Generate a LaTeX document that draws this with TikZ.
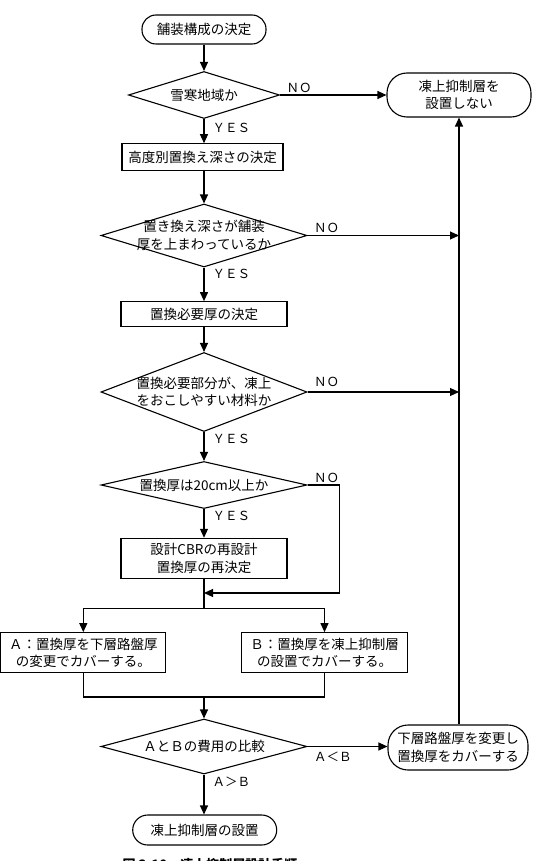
\documentclass[tikz,border=0pt]{standalone}
\usepackage{fontspec}
\setmainfont{Noto Sans CJK JP}
\usetikzlibrary{shapes.geometric,arrows.meta}
\newcommand\myfs{\fontsize{13.5}{17.5}\selectfont}
\newcommand\mylf{\fontsize{12.5}{14}\selectfont}
\begin{document}
\begin{tikzpicture}[x=1pt,y=-1pt,line width=1.1pt,
  arr/.style={-{Triangle[length=9pt,width=8pt]}},
  box/.style={draw,rectangle,inner sep=0pt,align=center,font=\myfs},
  term/.style={draw,rectangle,rounded corners=#1,inner sep=0pt,align=center,font=\myfs},
  dia/.style={draw,diamond,inner sep=0pt},
  dtext/.style={inner sep=0pt,align=center,font=\myfs},
  lab/.style={inner sep=0pt,font=\mylf}]
\useasboundingbox (0,0) rectangle (536,861);

% nodes
\node[term=14pt,minimum width=124pt,minimum height=29pt] (t1) at (204,29.5) {舗装構成の決定};
\node[dia,minimum width=151pt,minimum height=47pt] (d1) at (204,95) {};
\node[dtext] (d1t) at (d1) {雪寒地域か};
\node[term=20pt,minimum width=144pt,minimum height=44pt] (t2) at (459,95) {凍上抑制層を\\設置しない};
\node[box,minimum width=161pt,minimum height=27pt] (b1) at (202.5,157.3) {高度別置換え深さの決定};
\node[dia,minimum width=206pt,minimum height=63pt] (d2) at (204,235.5) {};
\node[dtext] (d2t) at (d2) {置き換え深さが舗装\\厚を上まわっているか};
\node[box,minimum width=166pt,minimum height=25pt] (b2) at (204,314.2) {置換必要厚の決定};
\node[dia,minimum width=206pt,minimum height=79pt] (d3) at (204,392) {};
\node[dtext] (d3t) at (d3) {置換必要部分が、凍上\\をおこしやすい材料か};
\node[dia,minimum width=206pt,minimum height=47pt] (d4) at (204,485) {};
\node[dtext] (d4t) at (d4) {置換厚は20cm以上か};
\node[box,minimum width=166pt,minimum height=40pt] (b3) at (204,558.3) {設計CBRの再設計\\置換厚の再決定};
\node[box,minimum width=165pt,minimum height=40pt] (bA) at (83.3,652.7) {Ａ：置換厚を下層路盤厚\\の変更でカバーする。};
\node[box,minimum width=166pt,minimum height=40pt] (bB) at (324.5,652.7) {Ｂ：置換厚を凍上抑制層\\の設置でカバーする。};
\node[dia,minimum width=206pt,minimum height=55pt] (d5) at (204,746.5) {};
\node[dtext] (d5t) at (d5) {ＡとＢの費用の比較};
\node[term=20pt,minimum width=140pt,minimum height=45pt] (t3) at (458,747.5) {下層路盤厚を変更し\\置換厚をカバーする};
\node[term=15pt,minimum width=144pt,minimum height=30pt] (t4) at (204.7,830) {凍上抑制層の設置};

\coordinate (join) at (204,593);
\coordinate (split) at (204,608.5);
\coordinate (merge) at (204,697);

% main flow
\draw[arr] (t1) -- (d1);
\draw[arr] (d1.south) -- (d1.south |- b1.north);
\draw[arr] (d1.south |- b1.south) -- (d2.north);
\draw[arr] (d2) -- (b2);
\draw[arr] (b2) -- (d3);
\draw[arr] (d3) -- (d4);
\draw[arr] (d4) -- (b3);
\draw (b3.south) -- (split);
\draw[arr] (split) -| (bA.north);
\draw[arr] (split) -| (bB.north);
\draw (bA.south) |- (merge) -| (bB.south);
\draw[arr] (merge) -- (d5.north);
\draw[arr] (d5.south) -- (d5.south |- t4.north);

% NO branches
\draw[arr] (d1.east) -- (t2.west);
\draw[arr] (d2.east) -- (d2.east -| t2.south);
\draw[arr] (d3.east) -- (d3.east -| t2.south);
\draw[arr] (d4.east) -- ++(32,0) |- (join);
\draw[arr] (d5.east) -- (d5.east -| t3.west);
\draw[arr] (t2.south |- t3.north) -- (t2.south);

% labels
\node[lab,anchor=base west] (l1) at ([shift={(6pt,2.5pt)}]d1.east) {ＮＯ};
\node[lab,anchor=base west] (l2) at ([shift={(8pt,-13pt)}]d1.south) {ＹＥＳ};
\node[lab,anchor=base west] (l3) at ([shift={(6pt,3.5pt)}]d2.east) {ＮＯ};
\node[lab,anchor=base west] (l4) at ([shift={(8pt,-11pt)}]d2.south) {ＹＥＳ};
\node[lab,anchor=base west] (l5) at ([shift={(6pt,6pt)}]d3.east) {ＮＯ};
\node[lab,anchor=base west] (l6) at ([shift={(8pt,-11pt)}]d3.south) {ＹＥＳ};
\node[lab,anchor=base west] (l7) at ([shift={(6pt,3pt)}]d4.east) {ＮＯ};
\node[lab,anchor=base west] (l8) at ([shift={(8pt,-11pt)}]d4.south) {ＹＥＳ};
\node[lab,anchor=base west] (l9) at ([shift={(6pt,-15pt)}]d5.east) {Ａ＜Ｂ};
\node[lab,anchor=base west] (l10) at ([shift={(8pt,-12pt)}]d5.south) {Ａ＞Ｂ};

% caption (cut off at the bottom edge)
\node[anchor=north west,inner sep=0pt,font=\fontsize{13}{15}\selectfont\bfseries] (cap) at (122,857.5) {図 3-10\quad 凍上抑制層設計手順};
\end{tikzpicture}
\end{document}
